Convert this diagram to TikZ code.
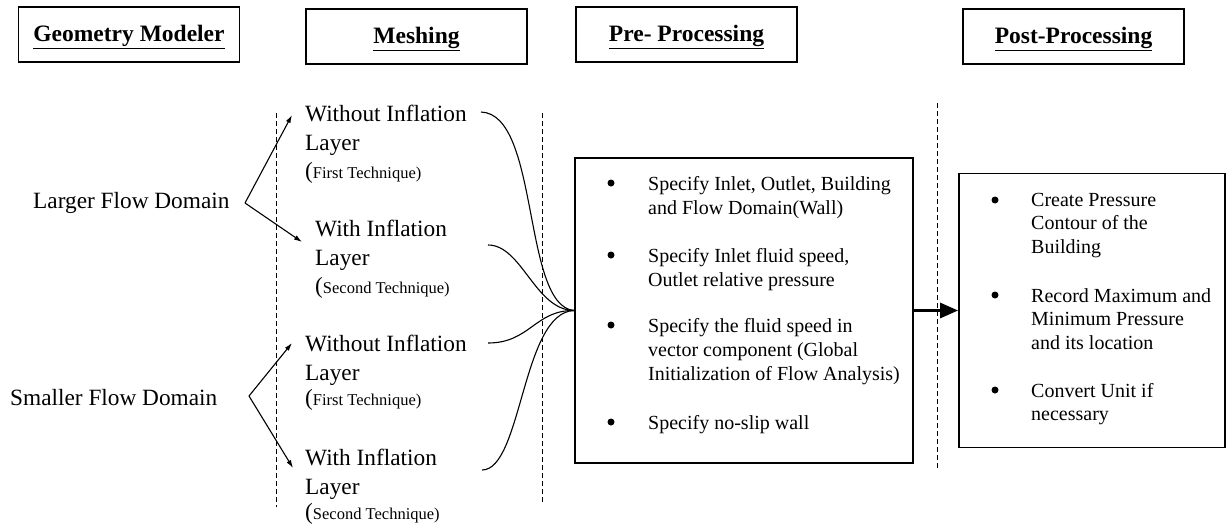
\documentclass[tikz,border=0pt]{standalone}
\usepackage{fontspec}
\setmainfont{Liberation Serif}
\usetikzlibrary{arrows.meta,calc}
\begin{document}
\begin{tikzpicture}[x=1pt,y=-1pt,
  hdr/.style={draw, line width=1.6pt, minimum width=221pt, minimum height=55pt, inner sep=0pt,
    text height=15pt, text depth=1pt,
    font=\fontsize{23.5}{27}\selectfont\bfseries},
  dom/.style={font=\fontsize{23.3}{28.5}\selectfont, inner sep=0pt, anchor=west},
  lbl/.style={font=\fontsize{23.3}{28.5}\selectfont, align=left, inner sep=0pt, anchor=north west},
  bigbox/.style={draw, line width=1.8pt, inner sep=0pt},
  itm/.style={font=\fontsize{20}{24.3}\selectfont, align=left, inner sep=0pt, anchor=north west},
  dot/.style={circle, fill=black, inner sep=0pt, minimum size=7pt},
  sep/.style={dashed, line width=1pt, dash pattern=on 5pt off 3pt},
  thin/.style={line width=1.1pt, -{Latex[length=8pt,width=5pt]}},
  curve/.style={line width=1.1pt},
  bigarrow/.style={line width=3pt, -{Triangle[length=18pt,width=15pt]}}
]
\useasboundingbox (0,0) rectangle (1228,525);

% headers
\node[hdr] (gm)   at (129,34.5)   {\underline{Geometry Modeler}};
\node[hdr] (mesh) at (416.5,36.5) {\underline{Meshing}};
\node[hdr] (pre)  at (686.5,34.5) {\underline{Pre- Processing}};
\node[hdr] (post) at (1073.5,36.5){\underline{Post-Processing}};

% separators
\draw[sep] (276,113) -- (276,507);
\draw[sep] (542,113) -- (542,502);
\draw[sep] (937,103) -- (937,470);

% domains
\node[dom] (large) at (33,203) {Larger Flow Domain};
\node[dom] (small) at (10,398) {Smaller Flow Domain};

% mesh labels
\node[lbl] (w1) at (305,105) {Without Inflation\\Layer\\({\fontsize{16.5}{28.5}\selectfont First Technique)}};
\node[lbl] (w2) at (315,220) {With Inflation\\Layer\\({\fontsize{16.5}{28.5}\selectfont Second Technique)}};
\node[lbl] (w3) at (305,335) {Without Inflation\\Layer\\[-3pt]({\fontsize{16.5}{28.5}\selectfont First Technique)}};
\node[lbl] (w4) at (305,449) {With Inflation\\Layer\\[-3.5pt]({\fontsize{16.5}{28.5}\selectfont Second Technique)}};

% apex and arrow ends
\coordinate (la) at (245,203);
\coordinate (sa) at (249,396);
\coordinate (e1) at (292,115);
\coordinate (e2) at (302,242);
\coordinate (e3) at (292,343);
\coordinate (e4) at (293,468);
\draw[thin] (la) -- (e1);
\draw[thin] (la) -- (e2);
\draw[thin] (sa) -- (e3);
\draw[thin] (sa) -- (e4);

% pre-processing box
\node[bigbox, minimum width=338pt, minimum height=305pt] (prebox) at (744,310.5) {};
\node[dot] (pb1) at (611,183) {};
\node[itm] (pt1) at (648,176) {Specify Inlet, Outlet, Building\\and Flow Domain(Wall)};
\node[dot] (pb2) at (611,255) {};
\node[itm] (pt2) at (648,248) {Specify Inlet fluid speed,\\Outlet relative pressure};
\node[dot] (pb3) at (611,325) {};
\node[itm] (pt3) at (648,318) {Specify the fluid speed in\\vector component (Global\\Initialization of Flow Analysis)};
\node[dot] (pb4) at (611,422) {};
\node[itm] (pt4) at (648,415) {Specify no-slip wall};

% curves from labels to box
\coordinate (s1) at (481,112);
\coordinate (s2) at (488,245);
\coordinate (s3) at (488,343);
\coordinate (s4) at (482,470);
\draw[curve] (s1) .. controls (540,114) and (522,306) .. (prebox.west);
\draw[curve] (s2) .. controls (522,245) and (535,310) .. (prebox.west);
\draw[curve] (s3) .. controls (530,343) and (535,310) .. (prebox.west);
\draw[curve] (s4) .. controls (522,470) and (522,312) .. (prebox.west);

% post-processing box
\node[bigbox, minimum width=266pt, minimum height=274pt] (postbox) at (1092,310.5) {};
\node[dot] (qb1) at (995,200) {};
\node[itm, font=\fontsize{20}{23.5}\selectfont] (qt1) at (1031,193) {Create Pressure\\Contour of the\\Building};
\node[dot] (qb2) at (995,295) {};
\node[itm, font=\fontsize{20}{23.5}\selectfont] (qt2) at (1031,288) {Record Maximum and\\Minimum Pressure\\and its location};
\node[dot] (qb3) at (995,390) {};
\node[itm, font=\fontsize{20}{23.5}\selectfont] (qt3) at (1031,383) {Convert Unit if\\necessary};

\draw[bigarrow] (prebox.east) -- (postbox.west);
\end{tikzpicture}
\end{document}
